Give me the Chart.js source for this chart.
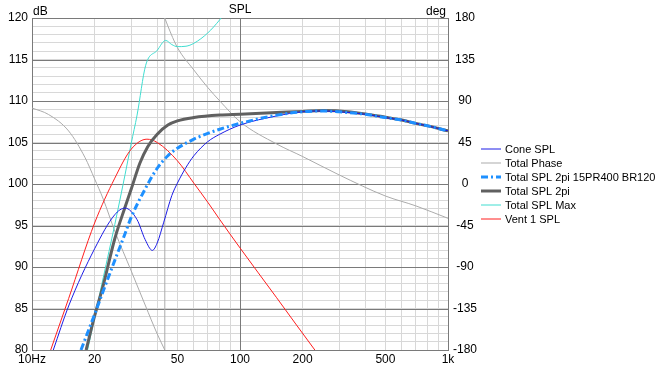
<!DOCTYPE html>
<html>
<head>
<meta charset="utf-8">
<script src="https://cdn.jsdelivr.net/npm/chart.js@4/dist/chart.umd.min.js"></script>
<style>
body { margin: 0; background: #fff; }
canvas { display: block; }
</style>
</head>
<body>
<canvas id="spl" width="667" height="368"></canvas>
<script>
// frequency ticks (log axis) and the ones that get a label
const xTicks = [10, 20, 30, 40, 50, 60, 70, 80, 90, 100, 200, 300, 400, 500, 600, 700, 800, 900, 1000];
const xLabels = { 10: '10Hz', 20: '20', 50: '50', 100: '100', 200: '200', 500: '500', 1000: '1k' };
const xMajor = [10, 100, 1000];

// Cone SPL
const coneFreq = [12.66, 15, 20, 25, 28, 32, 35, 37.9, 40, 43, 47, 50, 55, 60, 70, 80, 100, 150, 200, 250, 300, 400, 500, 600, 700, 800, 1000];
const coneSpl = [80, 85.3, 92.2, 96.3, 97.1, 95.7, 93.3, 92.0, 92.9, 95.4, 98.6, 100.1, 102.0, 103.4, 105.1, 106.0, 107.1, 108.2, 108.7, 108.8, 108.7, 108.4, 108.0, 107.7, 107.3, 107.0, 106.4];

// Total Phase (wraps at -180 -> 180)
const phaseFreqA = [10, 12, 15, 18, 20, 22, 25, 30, 35, 40, 43.5];
const phaseA = [82.4, 75.4, 57.5, 28.5, 5.5, -16.3, -51, -94.3, -131.2, -162.6, -180];
const phaseFreqB = [43.5, 45, 50, 60, 70, 80, 100, 150, 200, 300, 500, 700, 1000];
const phaseB = [180, 171.3, 148, 123.6, 104.6, 90.0, 67.6, 43.4, 29.8, 9.8, -13.0, -23.7, -37.2];

// Total SPL 2pi 15PR400 BR120
const bpFreq = [17.2, 20, 22, 25, 28, 30, 35, 40, 45, 50, 60, 70, 80, 100, 150, 200, 250, 300, 400, 500, 600, 700, 800, 1000];
const bpSpl = [80, 84.3, 87.1, 90.8, 94.0, 96.0, 99.4, 101.9, 103.4, 104.3, 105.4, 106.1, 106.6, 107.3, 108.3, 108.7, 108.8, 108.7, 108.4, 108.0, 107.7, 107.3, 107.0, 106.4];

// Total SPL 2pi
const t2Freq = [18.2, 20, 22, 25, 28, 30, 33, 36, 40, 45, 50, 60, 80, 100, 150, 200, 250, 300, 400, 500, 600, 700, 800, 1000];
const t2Spl = [80, 84.1, 87.8, 93.4, 97.2, 99.4, 102.5, 104.5, 106.0, 107.1, 107.6, 108.0, 108.3, 108.4, 108.6, 108.75, 108.85, 108.8, 108.45, 108.05, 107.7, 107.3, 107.0, 106.4];

// Total SPL Max
const maxFreq = [18.5, 20, 22, 25, 28, 30, 32, 35.2, 40, 43.9, 47, 50, 55, 60, 70, 80, 90];
const maxSpl = [80, 83.9, 88.7, 95.1, 101.1, 104.9, 108.3, 114.3, 116.1, 117.3, 116.8, 116.55, 116.6, 116.95, 118.2, 119.8, 121.5];

// Vent 1 SPL
const ventFreq = [12.3, 15, 20, 25, 30, 35.7, 40, 50, 60, 70, 80, 100, 150, 229, 260];
const ventSpl = [80, 86.2, 95.3, 100.7, 104.2, 105.4, 105.0, 102.8, 100.1, 97.8, 95.7, 92.3, 86.3, 80, 78.2];

const pts = (f, v) => f.map((x, i) => ({ x: x, y: v[i] }));

const MAJOR = '#7a7a7a';
const MINOR = '#d8d8d8';
const FONT = { family: '"Liberation Sans", Arial, sans-serif', size: 12 };

const line = (label, data, color, width, axis, extra) => Object.assign({
  label: label,
  data: data,
  borderColor: color,
  backgroundColor: color,
  borderWidth: width,
  pointRadius: 0,
  fill: false,
  cubicInterpolationMode: 'monotone',
  yAxisID: axis
}, extra || {});

// first in the list is drawn on top
const datasets = [
  line('Total SPL 2pi 15PR400 BR120', pts(bpFreq, bpSpl), '#1e90ff', 3, 'y', { borderDash: [7, 3, 2, 3] }),
  line('Cone SPL', pts(coneFreq, coneSpl), '#1c1ce6', 1, 'y'),
  line('Total SPL 2pi', pts(t2Freq, t2Spl), '#606060', 3, 'y'),
  line('Vent 1 SPL', pts(ventFreq, ventSpl), '#ff1e1e', 1, 'y'),
  line('Total SPL Max', pts(maxFreq, maxSpl), '#40ddd0', 1, 'y'),
  line('Total Phase', pts(phaseFreqA, phaseA), '#ababab', 1, 'yPhase'),
  line('Total Phase', pts(phaseFreqB, phaseB), '#ababab', 1, 'yPhase'),
  line('Total Phase', [
    { x: phaseFreqA[phaseFreqA.length - 1], y: phaseA[phaseA.length - 1] },
    { x: phaseFreqB[0], y: phaseB[0] }
  ], '#ababab', 1, 'yPhase', { cubicInterpolationMode: 'default', tension: 0 })
];

const legendItems = [
  ['Cone SPL', 1],
  ['Total Phase', 5],
  ['Total SPL 2pi 15PR400 BR120', 0],
  ['Total SPL 2pi', 2],
  ['Total SPL Max', 4],
  ['Vent 1 SPL', 3]
];

// dark grid lines go over the light ones
const majorGrid = {
  id: 'majorGrid',
  beforeDatasetsDraw(chart) {
    const c = chart.ctx;
    const a = chart.chartArea;
    const sx = chart.scales.x;
    const sy = chart.scales.y;
    c.save();
    c.strokeStyle = MAJOR;
    c.lineWidth = 1;
    c.beginPath();
    xMajor.forEach(v => {
      const px = Math.round(sx.getPixelForValue(v)) + 0.5;
      c.moveTo(px, a.top);
      c.lineTo(px, a.bottom);
    });
    for (let v = 80; v <= 120; v += 5) {
      const py = Math.round(sy.getPixelForValue(v)) + 0.5;
      c.moveTo(a.left, py);
      c.lineTo(a.right, py);
    }
    c.stroke();
    c.restore();
  }
};

const textPlugin = {
  id: 'texts',
  afterDraw(chart) {
    const c = chart.ctx;
    c.save();
    c.font = '12px "Liberation Sans", Arial, sans-serif';
    c.fillStyle = '#000';
    c.textBaseline = 'alphabetic';
    c.textAlign = 'center';
    c.fillText('SPL', 240, 13);
    c.textAlign = 'left';
    c.fillText('dB', 33, 15);
    c.textAlign = 'right';
    c.fillText('deg', 446, 15);

    c.font = '11px "Liberation Sans", Arial, sans-serif';
    c.textAlign = 'left';
    c.textBaseline = 'middle';
    legendItems.forEach((item, i) => {
      const ds = chart.data.datasets[item[1]];
      const y = 149 + i * 14;
      c.beginPath();
      c.strokeStyle = ds.borderColor;
      c.lineWidth = ds.borderWidth;
      c.setLineDash(ds.borderDash || []);
      c.moveTo(481, y);
      c.lineTo(501, y);
      c.stroke();
      c.setLineDash([]);
      c.fillStyle = '#000';
      c.fillText(item[0], 505, y + 1);
    });
    c.restore();
  }
};

new Chart(document.getElementById('spl'), {
  type: 'line',
  data: { datasets: datasets },
  options: {
    responsive: false,
    animation: false,
    events: [],
    layout: { padding: { left: 0, top: 18, right: 171, bottom: 0 } },
    plugins: {
      legend: { display: false },
      title: { display: false },
      tooltip: { enabled: false }
    },
    scales: {
      x: {
        type: 'logarithmic',
        min: 10,
        max: 1000,
        afterBuildTicks: s => { s.ticks = xTicks.map(v => ({ value: v })); },
        afterFit: s => { s.height = 18; },
        border: { display: false },
        grid: { drawTicks: false, color: MINOR },
        ticks: {
          autoSkip: false,
          maxRotation: 0,
          padding: 2,
          color: '#000',
          font: FONT,
          callback: v => xLabels[v] || ''
        }
      },
      y: {
        position: 'left',
        min: 80,
        max: 120,
        afterFit: s => { s.width = 32; },
        border: { display: true, color: MAJOR },
        grid: { drawTicks: false, color: MINOR },
        ticks: {
          stepSize: 1,
          autoSkip: false,
          padding: 4,
          color: '#000',
          font: FONT,
          callback: v => (v % 5 === 0 ? v : '')
        }
      },
      yPhase: {
        position: 'right',
        min: -180,
        max: 180,
        afterFit: s => { s.width = 48; },
        border: { display: true, color: MAJOR },
        grid: { drawOnChartArea: false, drawTicks: false },
        ticks: {
          stepSize: 45,
          autoSkip: false,
          crossAlign: 'center',
          padding: 5,
          color: '#000',
          font: FONT
        }
      }
    }
  },
  plugins: [majorGrid, textPlugin]
});
</script>
</body>
</html>
